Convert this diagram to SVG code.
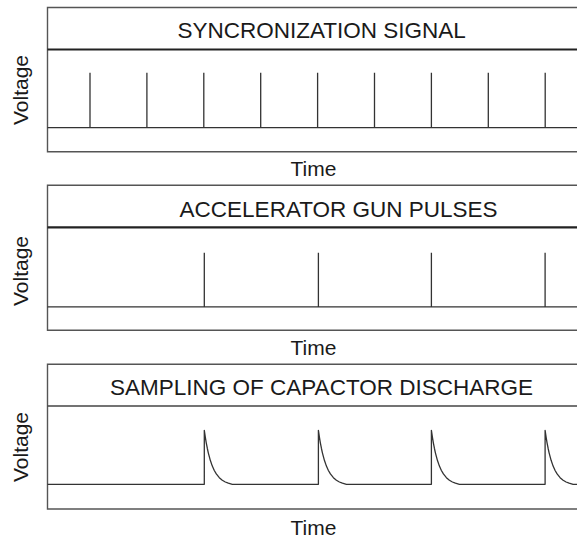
<svg xmlns="http://www.w3.org/2000/svg" width="577" height="540" viewBox="0 0 577 540">
<style>
.frame{fill:none;stroke:#555;stroke-width:1.4}
.div{fill:none;stroke:#222;stroke-width:2.2}
.div3{fill:none;stroke:#444;stroke-width:1.6}
.sig{fill:none;stroke:#333;stroke-width:1.3;stroke-linejoin:round}
.title{font-family:"Liberation Sans",Arial,sans-serif;font-size:22.5px;fill:#1a1a1a;text-anchor:middle}
.axis{font-family:"Liberation Sans",Arial,sans-serif;font-size:21px;fill:#1a1a1a;text-anchor:middle}
</style>
<rect width="577" height="540" fill="#fff"/>
<g id="panel-sync">
<path class="frame" d="M577,7.5 H47.5 V151.7 H577"/>
<line class="div" x1="47.5" y1="49.5" x2="577" y2="49.5"/>
<text class="title" x="321.6" y="38.3">SYNCRONIZATION SIGNAL</text>
<text class="axis" transform="translate(27.5,90) rotate(-90)">Voltage</text>
<text class="axis" x="313.5" y="176">Time</text>
</g>
<g id="panel-gun">
<path class="frame" d="M577,185.3 H47.5 V330.2 H577"/>
<line class="div" x1="47.5" y1="227.3" x2="577" y2="227.3"/>
<text class="title" x="338.6" y="216.7">ACCELERATOR GUN PULSES</text>
<text class="axis" transform="translate(27.5,271) rotate(-90)">Voltage</text>
<text class="axis" x="313.5" y="355">Time</text>
</g>
<g id="panel-cap">
<path class="frame" d="M577,364.2 H47.5 V509 H577"/>
<line class="div3" x1="47.5" y1="406" x2="577" y2="406"/>
<text class="title" x="321.5" y="395">SAMPLING OF CAPACTOR DISCHARGE</text>
<text class="axis" transform="translate(27.5,447) rotate(-90)">Voltage</text>
<text class="axis" x="313.5" y="535">Time</text>
</g>
<g id="signals">
<path class="sig" d="M47.5,127.7 H577 M90,127.7 V72.7 M146.9,127.7 V72.7 M203.8,127.7 V72.7 M260.7,127.7 V72.7 M317.6,127.7 V72.7 M374.5,127.7 V72.7 M431.4,127.7 V72.7 M488.3,127.7 V72.7 M545.2,127.7 V72.7"/>
<path class="sig" d="M47.5,306.8 H577 M204.3,306.8 V252.7 M318.4,306.8 V252.7 M431.4,306.8 V252.7 M545.1,306.8 V252.7"/>
<path class="sig" d="M47.5,484.3 H204.3 V430.3 l1,6.8 l1,5.93 l1,5.21 l1,4.56 l2,7.52 l2,5.77 l2,4.44 l2,3.42 l3,3.73 l3,2.55 l3,1.76 l3,1.21 l4,1.1 H318.4 V430.3 l1,6.8 l1,5.93 l1,5.21 l1,4.56 l2,7.52 l2,5.77 l2,4.44 l2,3.42 l3,3.73 l3,2.55 l3,1.76 l3,1.21 l4,1.1 H431.4 V430.3 l1,6.8 l1,5.93 l1,5.21 l1,4.56 l2,7.52 l2,5.77 l2,4.44 l2,3.42 l3,3.73 l3,2.55 l3,1.76 l3,1.21 l4,1.1 H545.1 V430.3 l1,6.8 l1,5.93 l1,5.21 l1,4.56 l2,7.52 l2,5.77 l2,4.44 l2,3.42 l3,3.73 l3,2.55 l3,1.76 l3,1.21 l4,1.1 H577"/>
</g>
</svg>
